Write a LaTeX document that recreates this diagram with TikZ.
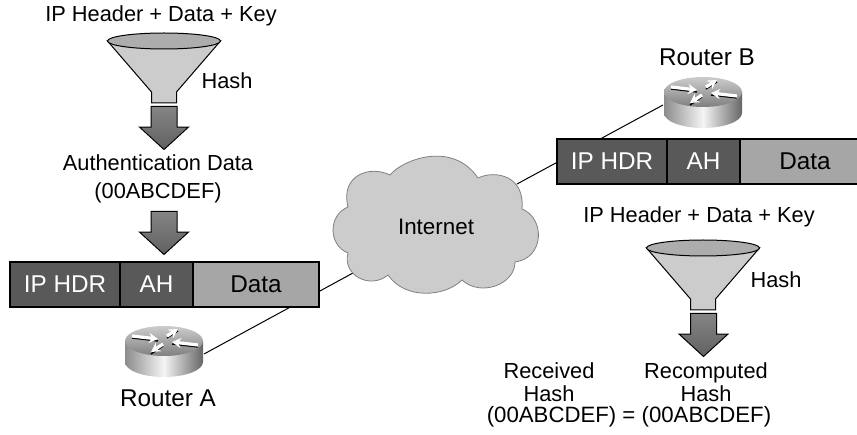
\documentclass[tikz,border=0pt]{standalone}
\usepackage{fontspec}
\setmainfont{Liberation Sans}
\usetikzlibrary{arrows,arrows.meta,positioning,shapes.arrows}

\tikzset{
  txt/.style={font=\fontsize{21.8}{23}\selectfont,align=center,inner sep=0pt},
  lbl/.style={txt,font=\fontsize{24.3}{26}\selectfont},
  pkt/.style={draw=black,line width=1.1pt,minimum height=45pt,inner sep=0pt,outer sep=0pt,font=\fontsize{24.3}{26}\selectfont},
  pktdark/.style={pkt,fill=hdrgray,text=white},
  pktdata/.style={pkt,fill=datagray},
  flow/.style={single arrow,draw=black,line width=1pt,top color=black!48,bottom color=black!62,
    text width=25pt,minimum height=43pt,inner sep=0pt,single arrow head extend=11.5pt,
    single arrow head indent=0pt,single arrow tip angle=95,shape border rotate=270,anchor=tail},
  link/.style={draw=black,line width=1pt},
  pics/funnel/.style={code={
    \draw[line width=1pt,fill=black!20] (-56.5,0) -- (-12.5,51) -- (-12.5,62) -- (12.5,62) -- (12.5,51) -- (56.5,0) -- cycle;
    \draw[line width=1pt,fill=black!32] (0,0) ellipse [x radius=56.5,y radius=8];
  }},
  pics/router/.style={code={
    \coordinate (-east) at (40,13);
    \coordinate (-west) at (-40,13);
    \path[left color=black!45,right color=black!60,middle color=black!4]
      (-39,0) -- (-39,21) arc [start angle=180,end angle=0,x radius=39,y radius=15] -- (39,0) -- cycle;
    \path[top color=black!20,bottom color=black!50] (0,0) ellipse [x radius=39,y radius=15];
    \foreach \tailx/\taily/\tipx/\tipy in {-32/-5/-6/-2, 3/-5/14/-12, -1/3/-13/11, 34/4/8/1} {
      \draw[black,line width=1.4pt] (\tailx,\taily+2) -- (\tipx,\tipy+2);
      \draw[white,line width=3.2pt,-{Stealth[length=9pt,width=10pt]}] (\tailx,\taily) -- (\tipx,\tipy);
    }
  }}
}
\definecolor{hdrgray}{gray}{0.35}
\definecolor{datagray}{gray}{0.65}
\definecolor{cloudgray}{gray}{0.8}

\begin{document}
\begin{tikzpicture}[x=1pt,y=-1pt,>=stealth']
  \clip (0,0) rectangle (857,435);

  \coordinate (cloudA) at (353,273);
  \coordinate (cloudB) at (517,184);
  \pic (routerA) at (164,341) {router};
  \pic (routerB) at (703,92) {router};

  \path (routerA-east) edge [link] (cloudA)
        (routerB-west) edge [link] (cloudB);

  \draw[draw=black!50,line width=0.8pt,fill=cloudgray]
    (390,175) .. controls (402,160) and (452,140) .. (478,178)
    .. controls (495,170) and (525,175) .. (522,209)
    .. controls (545,218) and (545,258) .. (515,262)
    .. controls (515,285) and (480,297) .. (462,280)
    .. controls (445,297) and (405,300) .. (388,275)
    .. controls (370,290) and (342,275) .. (348,253)
    .. controls (328,245) and (328,215) .. (348,207)
    .. controls (340,175) and (370,165) .. (390,175) -- cycle;
  \node[txt,font=\fontsize{22.4}{24}\selectfont] (internet) at (436,227) {Internet};

  \node[pktdark,minimum width=110pt] (hdrA) at (65,284.5) {IP HDR};
  \node[pktdark,minimum width=73pt,right=0pt of hdrA] (ahA) {AH};
  \node[pktdata,minimum width=126pt,right=0pt of ahA] (dataA) {Data};

  \node[pktdark,minimum width=110pt] (hdrB) at (612,161.5) {IP HDR};
  \node[pktdark,minimum width=73pt,right=0pt of hdrB] (ahB) {AH};
  \node[pktdata,minimum width=130pt,right=0pt of ahB] (dataB) {Data};

  \node[txt] (inputA) at (161,16) {IP Header + Data + Key};
  \pic (funnelA) at (164,41) {funnel};
  \node[txt] (hashA) at (227,81) {Hash};
  \node[flow] (flowA) at (164,106) {};
  \node[txt] (authA) at (158,179) {Authentication Data\\[5pt](00ABCDEF)};
  \node[flow] (flowB) at (164,211) {};
  \node[lbl] (labelA) at (168,398) {Router A};

  \node[lbl] (labelB) at (707,57) {Router B};
  \node[txt] (inputB) at (699,217) {IP Header + Data + Key};
  \pic (funnelB) at (703,248) {funnel};
  \node[txt] (hashB) at (776,280) {Hash};
  \node[flow] (flowC) at (703.5,313) {};
  \node[txt] (received) at (549,382) {Received\\Hash};
  \node[txt] (recomputed) at (706,382) {Recomputed\\Hash};
  \node[txt,font=\fontsize{22.2}{24}\selectfont] (compare) at (629,417) {(00ABCDEF) = (00ABCDEF)};
\end{tikzpicture}
\end{document}
